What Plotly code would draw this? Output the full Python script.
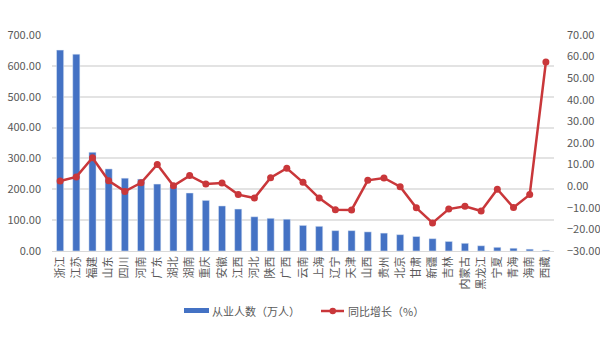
import plotly.graph_objects as go

provinces = ["浙江", "江苏", "福建", "山东", "四川", "河南", "广东", "湖北", "湖南", "重庆",
             "安徽", "江西", "河北", "陕西", "广西", "云南", "上海", "辽宁", "天津", "山西",
             "贵州", "北京", "甘肃", "新疆", "吉林", "内蒙古", "黑龙江", "宁夏", "青海", "海南", "西藏"]
employees = [651, 638, 320, 266, 236, 233, 217, 208, 188, 164,
             146, 136, 111, 106, 103, 83, 80, 66, 66, 62,
             58, 53, 47, 40, 31, 25, 17, 12, 9, 6, 3]
growth = [2.4, 4.3, 13.2, 2.5, -2.4, 1.6, 10.1, 0.2, 4.9, 1.0,
          1.5, -3.9, -5.5, 3.9, 8.3, 1.8, -5.5, -10.9, -11.0, 2.7,
          3.8, -0.2, -10.0, -17.0, -10.6, -9.3, -11.5, -1.4, -9.9, -3.9, 57.5]
left_ticks = [0, 100, 200, 300, 400, 500, 600, 700]
right_ticks = [-30, -20, -10, 0, 10, 20, 30, 40, 50, 60, 70]

bar_name = "从业人数（万人）"
line_name = "同比增长（%）"

BLUE = "#4472C4"
RED = "#C9373A"
GREY_TXT = "#595959"
FONT = "Noto Sans CJK SC"

fig = go.Figure()
fig.add_trace(go.Bar(x=provinces, y=employees, name=bar_name, marker_color=BLUE,
                     yaxis="y", showlegend=False))
fig.add_trace(go.Scatter(x=provinces, y=growth, name=line_name, yaxis="y2",
                         mode="lines+markers", line=dict(color=RED, width=2.5),
                         marker=dict(color=RED, size=7), showlegend=False))

# plot-area geometry in pixels (used to place the hand-drawn legend)
L, R, T, B = 52, 554, 35, 251
W, H = R - L, B - T
def px(x):
    return (x - L) / W
def py(y):
    return (B - y) / H

shapes = [
    dict(type="rect", xref="paper", yref="paper", x0=px(184), x1=px(209),
         y0=py(313), y1=py(308), fillcolor=BLUE, line_width=0),
    dict(type="line", xref="paper", yref="paper", x0=px(321), x1=px(344),
         y0=py(311), y1=py(311), line=dict(color=RED, width=2.5)),
    dict(type="circle", xref="paper", yref="paper", x0=px(329.5), x1=px(336),
         y0=py(314.2), y1=py(307.8), fillcolor=RED, line_width=0),
]
annotations = [
    dict(xref="paper", yref="paper", x=px(210), y=py(311), text=bar_name,
         showarrow=False, xanchor="left", yanchor="middle",
         font=dict(family=FONT, size=11, color=GREY_TXT)),
    dict(xref="paper", yref="paper", x=px(346), y=py(311), text=line_name,
         showarrow=False, xanchor="left", yanchor="middle",
         font=dict(family=FONT, size=11, color=GREY_TXT)),
]

fig.update_layout(
    width=600, height=350,
    margin=dict(l=L, r=600 - R, t=T, b=350 - B, autoexpand=False),
    paper_bgcolor="white", plot_bgcolor="white",
    font=dict(family=FONT, size=11, color=GREY_TXT),
    bargap=0.56,
    showlegend=False,
    xaxis=dict(range=[-0.5, len(provinces) - 0.5], tickangle=-90,
               tickfont=dict(size=11, color=GREY_TXT), showgrid=False,
               showline=True, linecolor="#d9d9d9", linewidth=1, ticks="", automargin=False),
    yaxis=dict(range=[0, 700], tickvals=left_ticks, tickformat=".2f", automargin=False,
               showgrid=True, gridcolor="#e3e3e3", gridwidth=1.5, zeroline=False,
               ticklabelstandoff=10,
               tickfont=dict(size=11, color=GREY_TXT), ticks="", showline=False),
    yaxis2=dict(range=[-30, 70], tickvals=right_ticks, tickformat=".2f", automargin=False,
                overlaying="y", side="right", showgrid=False, zeroline=False,
                ticklabelstandoff=12,
                tickfont=dict(size=11, color=GREY_TXT), ticks="", showline=False),
    shapes=shapes, annotations=annotations,
)

fig.write_html("out.html")
